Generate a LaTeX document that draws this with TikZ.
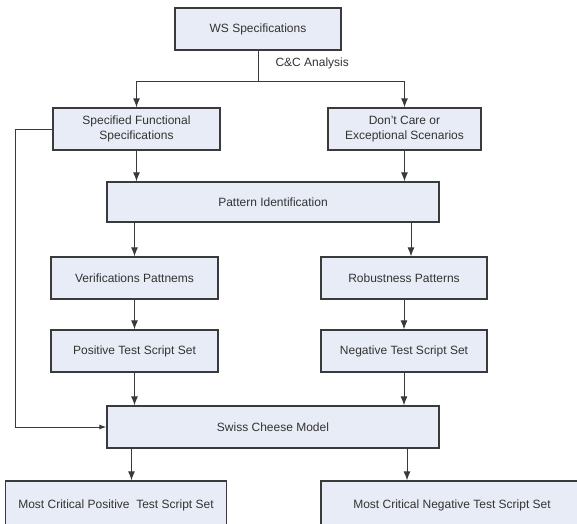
\documentclass[tikz,border=0pt]{standalone}
\usepackage{fontspec}
\setmainfont{Liberation Sans}
\usetikzlibrary{arrows.meta}
\definecolor{boxfill}{HTML}{E8ECF6}
\definecolor{edge}{HTML}{3A3A3A}
\definecolor{txt}{HTML}{333333}

\begin{document}
\begin{tikzpicture}[x=1pt,y=-1pt,>={Latex[length=9pt,width=7pt]},
    box/.style={draw=edge,line width=1.3pt,fill=boxfill,text=txt,minimum height=42pt,
        inner sep=0pt,align=center,font=\fontsize{12}{15}\selectfont},
    flow/.style={draw=edge,line width=1pt,->},
    smallflow/.style={draw=edge,line width=1pt,-{Latex[length=7pt,width=5pt]}}]
            % frame of the page
            \useasboundingbox (0,0) rectangle (577,523);
            \clip (0,0) rectangle (577,523);

            % top of the chart
            \node[box,minimum width=166pt] (ws) at (258,29) {WS Specifications};
            \node[box,minimum width=167pt] (sfs) at (136.5,129) {Specified Functional\\Specifications};
            \node[box,minimum width=153pt] (dc) at (404.5,129) {Don't Care or\\Exceptional Scenarios};

            %C&C split
            \coordinate (split) at (ws.south |- 0,81);
            \draw[draw=edge,line width=1pt] (ws.south) -- (split);
            \draw[flow] (split) -| (sfs.north);
            \draw[flow] (split) -| (dc.north);
            \node[anchor=west,text=txt,font=\fontsize{12}{15}\selectfont] (cca) at (272,63) {C\&C Analysis};

            %patterns
            \node[box,minimum width=332pt,minimum height=40pt] (pi) at (273,202) {Pattern Identification};
            \draw[flow] (sfs.south) -- (sfs.south |- pi.north);
            \draw[flow] (dc.south) -- (dc.south |- pi.north);

            \node[box,minimum width=167pt] (vp) at (134.5,278) {Verifications Pattnems};
            \node[box,minimum width=166pt] (rp) at (404,278) {Robustness Patterns};
            \draw[flow] (vp.north |- pi.south) -- (vp.north);
            \draw[flow] ([xshift=7pt]rp.north |- pi.south) -- ([xshift=7pt]rp.north);

            %script sets
            \node[box,minimum width=167pt] (pts) at (134.5,351) {Positive Test Script Set};
            \node[box,minimum width=166pt] (nts) at (404,351) {Negative Test Script Set};
            \draw[flow] (vp.south) -- (pts.north);
            \draw[flow] (rp.south) -- (nts.north);

            %swiss cheese
            \node[box,minimum width=332pt] (scm) at (273,427) {Swiss Cheese Model};
            \draw[flow] (pts.south) -- (pts.south |- scm.north);
            \draw[flow] (nts.south) -- (nts.south |- scm.north);
            \draw[smallflow] (sfs.west) -- ++(-37,0) |- (scm.west);

            % result at the bottom (cut by the page edge)
            \node[box,minimum width=221pt,minimum height=50pt] (mcp) at (116,506) {\raisebox{4pt}{Most Critical Positive\ \ Test Script Set}};
            \node[box,minimum width=262pt,minimum height=50pt] (mcn) at (452,506) {\raisebox{4pt}{Most Critical Negative Test Script Set}};
            \draw[flow] ([xshift=-3pt]scm.south -| pts.south) -- ([xshift=-3pt]pts.south |- mcp.north);
            \draw[flow] ([xshift=3pt]scm.south -| nts.south) -- ([xshift=3pt]nts.south |- mcn.north);
        \end{tikzpicture}
\end{document}
